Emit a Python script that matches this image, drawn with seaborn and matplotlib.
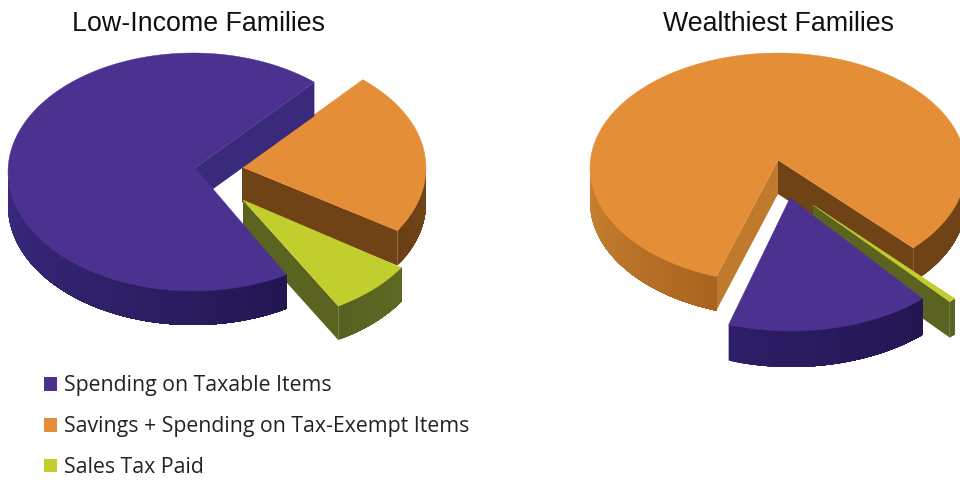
import numpy as np
import matplotlib
matplotlib.use("Agg")
import matplotlib.pyplot as plt
from matplotlib.patches import Patch, Polygon
import seaborn as sns

categories = ["Spending on Taxable Items",
              "Savings + Spending on Tax-Exempt Items",
              "Sales Tax Paid"]
low_income = [69.8, 22.6, 7.6]
wealthiest = [17.5, 81.9, 0.6]
chart_titles = ["Low-Income Families", "Wealthiest Families"]

TOP = sns.color_palette(["#4B3190", "#E58E38", "#C2CE2E"])

# Per-slice drawing setup: ellipse centre and radii, wedge tip, rim depth, rim shades, cut walls.
LOW_STYLE = {
    0: dict(c=(193, 172), r=(185, 119), tip=(195, 168), depth=34,
            rim=("#3A2A80", "#241652"), walls={"start": "#3A2A7C"}),
    1: dict(c=(242, 168), r=(184, 117), tip=(242, 167), depth=35,
            rim=("#6B3F14", "#744719"), walls={"start": "#6F4315"}),
    2: dict(c=(245, 205), r=(185, 117), tip=(243, 200), depth=34,
            rim=("#566020", "#5F6A24"), walls={"start": "#5A6420"}),
}
RICH_STYLE = {
    0: dict(c=(791, 215), r=(190, 116), tip=(790, 198), depth=36,
            rim=("#2E1D68", "#241652"), walls={}),
    1: dict(c=(778, 168), r=(188, 115), tip=(778, 160), depth=34,
            rim=("#CC8432", "#A9641F"), rim_right="#6F4315",
            walls={"start": "#6F4315", "end": "#C07A2E"}),
    2: dict(c=(821, 218), r=(186, 116), tip=(813, 205), depth=36,
            rim=("#5A6420", "#5A6420"), walls={"start": "#5A6420"}),
}


def arc_point(style, deg):
    t = np.radians(deg)
    return (style["c"][0] + style["r"][0] * np.cos(t),
            style["c"][1] - style["r"][1] * np.sin(t))


def wall(ax, style, deg, colour, z):
    x, y = arc_point(style, deg)
    tx, ty = style["tip"]
    d = style["depth"]
    ax.add_patch(Polygon([(tx, ty), (x, y), (x, y + d), (tx, ty + d)],
                         fc=colour, ec="none", zorder=z))


def rim(ax, style, a0, a1, z):
    """Outer side of a slice: only the part that faces the viewer."""
    d = style["depth"]
    for lo, hi in ((180, 360), (540, 720)):
        s, e = max(a0, lo), min(a1, hi)
        if e <= s:
            continue
        shades = style["rim"]
        if lo == 180 and "rim_right" in style:
            shades = (style["rim_right"],) * 2
        steps = max(int(e - s), 2)
        edges = np.linspace(s, e, steps + 1)
        cols = sns.blend_palette(list(shades), steps)
        # Each band runs on to the end of the arc, so the next one paints over its seam.
        for i in range(steps):
            arc = np.linspace(edges[i], e, max(steps - i, 1) * 2 + 1)
            upper = [arc_point(style, a) for a in arc]
            lower = [(x, y + d) for x, y in upper[::-1]]
            ax.add_patch(Polygon(upper + lower, fc=cols[i], ec="none", zorder=z))


def top(ax, style, a0, a1, colour, z):
    pts = [style["tip"]] + [arc_point(style, a) for a in np.linspace(a0, a1, 200)]
    ax.add_patch(Polygon(pts, fc=colour, ec=colour, lw=0.3, zorder=z))


def draw_pie(ax, shares, styles, start, ccw_order, layers):
    """Slices run counter-clockwise from `start`; layers set the stacking order."""
    spans, angle = {}, start
    for idx in ccw_order:
        sweep = shares[idx] * 360 / sum(shares)
        spans[idx] = (angle, angle + sweep)
        angle += sweep
    for z, idx in enumerate(layers):
        st, (a0, a1) = styles[idx], spans[idx]
        base = 10 * (z + 1)
        for side, colour in st["walls"].items():
            wall(ax, st, a0 if side == "start" else a1, colour, base)
        rim(ax, st, a0, a1, base + 1)
        top(ax, st, a0, a1, TOP[idx], base + 2)


sns.set_theme(style="white")
plt.rcParams["font.family"] = ["Liberation Sans", "DejaVu Sans"]

fig = plt.figure(figsize=(9.6, 4.8), dpi=100)
ax = fig.add_axes([0, 0, 1, 1])
ax.set_xlim(0, 960)
ax.set_ylim(480, 0)
ax.axis("off")

draw_pie(ax, low_income, LOW_STYLE, 49, [0, 2, 1], [1, 2, 0])
draw_pie(ax, wealthiest, RICH_STYLE, 316, [1, 0, 2], [1, 2, 0])

ax.text(198, 24, chart_titles[0], ha="center", va="center", fontsize=19.3, color="#111111")
ax.text(778.5, 24, chart_titles[1], ha="center", va="center", fontsize=19.3, color="#111111")

handles = [Patch(fc=c, ec="none") for c in TOP]
ax.legend(handles, categories, loc="upper left", bbox_to_anchor=(0.0458, 0.218),
          frameon=False, handlelength=0.62, handleheight=0.62, handletextpad=0.33,
          labelspacing=0.93, borderpad=0, borderaxespad=0,
          prop={"family": "Open Sans", "size": 15.3}, labelcolor="#222222")

fig.savefig("out.png", dpi=100)
